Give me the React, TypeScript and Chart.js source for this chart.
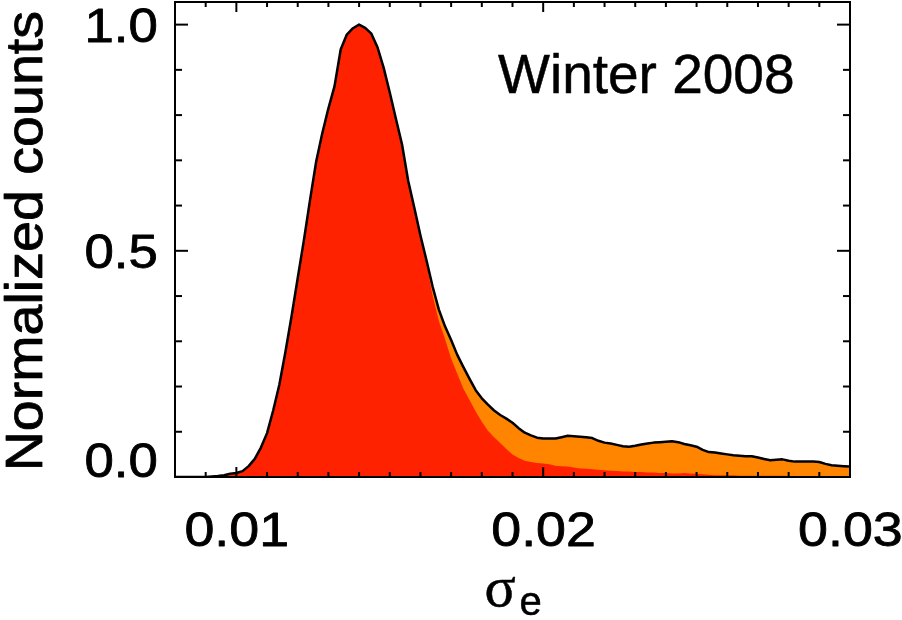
import React, { useEffect, useRef } from 'react';
import { Chart, registerables } from 'chart.js';

Chart.register(...registerables);

// sigma_e bin centres
const sigmaBins = [
  0.0080, 0.0082, 0.0084, 0.0086, 0.0088, 0.0090, 0.0092, 0.0094, 0.0096, 0.0098,
  0.0100, 0.0102, 0.0104, 0.0106, 0.0108, 0.0110, 0.0112, 0.0114, 0.0116, 0.0118,
  0.0120, 0.0122, 0.0124, 0.0126, 0.0128, 0.0130, 0.0132, 0.0134, 0.0136, 0.0138,
  0.0140, 0.0142, 0.0144, 0.0146, 0.0148, 0.0150, 0.0152, 0.0154, 0.0156, 0.0158,
  0.0160, 0.0162, 0.0164, 0.0166, 0.0168, 0.0170, 0.0172, 0.0174, 0.0176, 0.0178,
  0.0180, 0.0182, 0.0184, 0.0186, 0.0188, 0.0190, 0.0192, 0.0194, 0.0196, 0.0198,
  0.0200, 0.0202, 0.0204, 0.0206, 0.0208, 0.0210, 0.0212, 0.0214, 0.0216, 0.0218,
  0.0220, 0.0222, 0.0224, 0.0226, 0.0228, 0.0230, 0.0232, 0.0234, 0.0236, 0.0238,
  0.0240, 0.0242, 0.0244, 0.0246, 0.0248, 0.0250, 0.0252, 0.0254, 0.0256, 0.0258,
  0.0260, 0.0262, 0.0264, 0.0266, 0.0268, 0.0270, 0.0272, 0.0274, 0.0276, 0.0278,
  0.0280, 0.0282, 0.0284, 0.0286, 0.0288, 0.0290, 0.0292, 0.0294, 0.0296, 0.0298, 0.0300,
];

// all events (orange, black outline)
const totalCounts = [
  0, 0, 0, 0, 0, 0, 0.001, 0.002, 0.004, 0.007,
  0.009, 0.013, 0.024, 0.040, 0.065, 0.097, 0.147, 0.204, 0.277, 0.356,
  0.440, 0.523, 0.612, 0.697, 0.760, 0.815, 0.864, 0.945, 0.978, 0.992,
  1.000, 0.993, 0.980, 0.950, 0.905, 0.850, 0.792, 0.735, 0.655, 0.595,
  0.534, 0.478, 0.420, 0.370, 0.333, 0.303, 0.270, 0.243, 0.217, 0.192,
  0.174, 0.160, 0.147, 0.137, 0.129, 0.120, 0.108, 0.098, 0.092, 0.087,
  0.085, 0.085, 0.085, 0.088, 0.091, 0.090, 0.089, 0.088, 0.086, 0.080,
  0.076, 0.074, 0.071, 0.068, 0.067, 0.069, 0.072, 0.074, 0.076, 0.077,
  0.078, 0.079, 0.077, 0.073, 0.070, 0.067, 0.060, 0.055, 0.054, 0.052,
  0.050, 0.048, 0.047, 0.046, 0.046, 0.043, 0.040, 0.037, 0.038, 0.039,
  0.036, 0.034, 0.034, 0.034, 0.034, 0.033, 0.029, 0.026, 0.025, 0.024, 0.023,
];

// subset (red)
const subsetCounts = [
  0, 0, 0, 0, 0, 0, 0.001, 0.002, 0.004, 0.007,
  0.009, 0.013, 0.024, 0.040, 0.065, 0.097, 0.147, 0.204, 0.277, 0.356,
  0.440, 0.523, 0.612, 0.697, 0.760, 0.815, 0.864, 0.945, 0.978, 0.992,
  1.000, 0.993, 0.980, 0.950, 0.905, 0.850, 0.792, 0.735, 0.655, 0.595,
  0.534, 0.470, 0.400, 0.345, 0.305, 0.262, 0.228, 0.195, 0.170, 0.145,
  0.122, 0.102, 0.088, 0.075, 0.062, 0.050, 0.042, 0.036, 0.033, 0.031,
  0.030, 0.028, 0.025, 0.024, 0.023, 0.021, 0.019, 0.018, 0.017, 0.016,
  0.015, 0.014, 0.013, 0.012, 0.012, 0.011, 0.011, 0.010, 0.010, 0.009,
  0.009, 0.008, 0.008, 0.009, 0.008, 0.007, 0.006, 0.005, 0.004, 0.004,
  0.004, 0.004, 0.003, 0.003, 0.003, 0.003, 0.003, 0.003, 0.003, 0.003,
  0.002, 0.002, 0.002, 0.002, 0.002, 0.002, 0.002, 0.002, 0.002, 0.002, 0.002,
];

const xTickValues = [0.01, 0.02, 0.03];
const xTickLabels = ['0.01', '0.02', '0.03'];
const yTickValues = [0, 0.5, 1.0];
const yTickLabels = ['0.0', '0.5', '1.0'];
const annotationText = 'Winter 2008';
const yTitle = 'Normalized counts';
const xTitleMain = 'σ';
const xTitleSub = 'e';

const RED = 'rgb(255,34,0)';
const ORANGE = 'rgb(255,133,0)';
const SANS = '"Liberation Sans", Arial, Helvetica, sans-serif';
const SERIF = '"Liberation Serif", "Times New Roman", serif';

function drawInk(
  ctx: CanvasRenderingContext2D,
  text: string,
  font: string,
  sx: number,
  anchor: number,
  align: 'left' | 'center' | 'right',
  baseline: number,
  bold = 0,
) {
  ctx.font = font;
  ctx.textAlign = 'left';
  ctx.textBaseline = 'alphabetic';
  const m = ctx.measureText(text);
  const w = (m.actualBoundingBoxLeft + m.actualBoundingBoxRight) * sx;
  let inkLeft = anchor;
  if (align === 'center') inkLeft = anchor - w / 2;
  if (align === 'right') inkLeft = anchor - w;
  ctx.save();
  ctx.translate(inkLeft, baseline);
  ctx.scale(sx, 1);
  ctx.fillText(text, m.actualBoundingBoxLeft, 0);
  if (bold > 0) {
    ctx.lineWidth = bold;
    ctx.lineJoin = 'round';
    ctx.strokeText(text, m.actualBoundingBoxLeft, 0);
  }
  ctx.restore();
}

const framePlugin = {
  id: 'idlFrame',
  afterDraw(chart: any) {
    const { ctx, chartArea: a, scales } = chart;
    const xs = scales.x;
    const ys = scales.y;
    ctx.save();
    ctx.strokeStyle = '#000';
    ctx.fillStyle = '#000';
    ctx.lineWidth = 2;
    ctx.lineCap = 'butt';
    ctx.strokeRect(a.left, a.top, a.right - a.left, a.bottom - a.top);

    const seg = (x1: number, y1: number, x2: number, y2: number) => {
      ctx.beginPath();
      ctx.moveTo(x1, y1);
      ctx.lineTo(x2, y2);
      ctx.stroke();
    };

    // x ticks: minor every 0.001, major every 0.01
    for (let i = 0; i <= 22; i++) {
      const v = 0.008 + i * 0.001;
      const px = xs.getPixelForValue(v);
      const major = (8 + i) % 10 === 0;
      const len = major ? 10 : 5;
      seg(px, a.bottom, px, a.bottom - len);
      seg(px, a.top, px, a.top + len);
    }
    // y ticks: minor every 0.1, major every 0.5
    for (let j = 0; j <= 10; j++) {
      const py = ys.getPixelForValue(j * 0.1);
      const major = j % 5 === 0;
      const len = major ? 13 : 7;
      seg(a.left, py, a.left + len, py);
      seg(a.right, py, a.right - len, py);
    }

    const tickFont = `48px ${SANS}`;
    xTickValues.forEach((v, i) => {
      drawInk(ctx, xTickLabels[i], tickFont, 1.12, xs.getPixelForValue(v), 'center', a.bottom + 69, 0.8);
    });
    yTickValues.forEach((v, i) => {
      const py = ys.getPixelForValue(v);
      const base = Math.min(py + 17.5, a.bottom);
      drawInk(ctx, yTickLabels[i], tickFont, 1.1, a.left - 19, 'right', base, 0.8);
    });

    // annotation
    drawInk(ctx, annotationText, `55px ${SANS}`, 1.0, a.left + 323, 'left', a.top + 91, 0.5);

    // y title (rotated)
    ctx.save();
    ctx.translate(42, (a.top + a.bottom) / 2);
    ctx.rotate(-Math.PI / 2);
    ctx.font = `52px ${SANS}`;
    const m = ctx.measureText(yTitle);
    const inkW = m.actualBoundingBoxLeft + m.actualBoundingBoxRight;
    const sx = 455 / inkW;
    drawInk(ctx, yTitle, `52px ${SANS}`, sx, 0, 'center', 0, 0.8);
    ctx.restore();

    // x title: sigma_e
    const cx = (a.left + a.right) / 2;
    drawInk(ctx, xTitleMain, `58px ${SERIF}`, 1.0, cx - 26, 'left', a.bottom + 129, 0.5);
    drawInk(ctx, xTitleSub, `40px ${SANS}`, 1.0, cx + 8, 'left', a.bottom + 138, 0.5);

    ctx.restore();
  },
};

export default function App() {
  const ref = useRef<HTMLCanvasElement | null>(null);

  useEffect(() => {
    document.body.style.margin = '0';
    const canvas = ref.current;
    if (!canvas) return;
    const pts = (arr: number[]) => sigmaBins.map((x, i) => ({ x, y: arr[i] }));
    const chart = new Chart(canvas, {
      type: 'line',
      data: {
        datasets: [
          {
            label: 'outline',
            data: pts(totalCounts),
            borderColor: '#000',
            borderWidth: 2.5,
            fill: false,
            pointRadius: 0,
            order: 0,
          },
          {
            label: 'subset',
            data: pts(subsetCounts),
            borderColor: 'transparent',
            borderWidth: 0,
            backgroundColor: RED,
            fill: 'origin',
            pointRadius: 0,
            order: 1,
          },
          {
            label: 'total',
            data: pts(totalCounts),
            borderColor: 'transparent',
            borderWidth: 0,
            backgroundColor: ORANGE,
            fill: 'origin',
            pointRadius: 0,
            order: 2,
          },
        ],
      },
      options: {
        animation: false,
        responsive: false,
        layout: { padding: { left: 175, right: 52, top: 2, bottom: 143 } },
        scales: {
          x: { type: 'linear', min: 0.008, max: 0.03, display: false },
          y: { type: 'linear', min: 0, max: 1.05, display: false },
        },
        elements: { line: { tension: 0, borderJoinStyle: 'round' } },
        plugins: { legend: { display: false }, tooltip: { enabled: false } },
      },
      plugins: [framePlugin],
    } as any);
    return () => chart.destroy();
  }, []);

  return <canvas ref={ref} width={902} height={620} style={{ display: 'block' }} />;
}
